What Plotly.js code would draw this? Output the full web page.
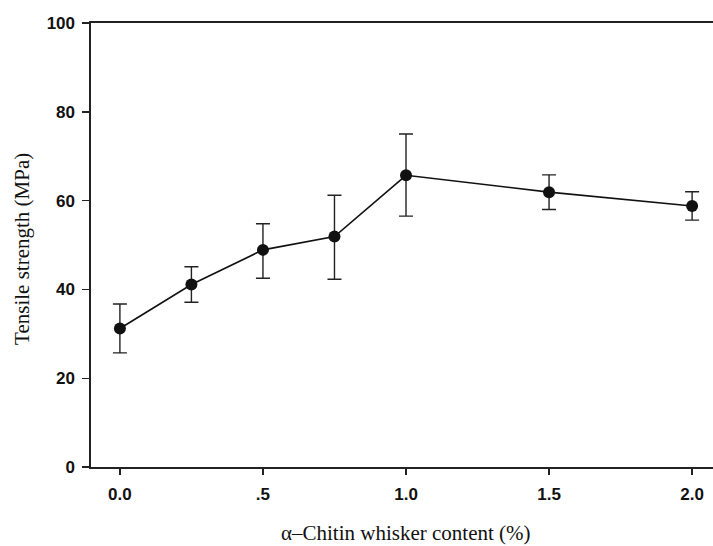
<!DOCTYPE html>
<html>
<head>
<meta charset="utf-8">
<script src="https://cdn.plot.ly/plotly-3.0.1.min.js"></script>
<style>html,body{margin:0;padding:0;background:#fff;}#chart{width:713px;height:546px;}</style>
</head>
<body>
<div id="chart"></div>
<script>
const content = [0.0, 0.25, 0.5, 0.75, 1.0, 1.5, 2.0];
const strength = [31.2, 41.1, 48.9, 51.9, 65.7, 61.9, 58.8];
const errPlus = [5.5, 4.0, 5.9, 9.3, 9.3, 3.9, 3.2];
const errMinus = [5.5, 4.0, 6.4, 9.6, 9.2, 3.9, 3.2];
const xTickVals = [0, 0.5, 1.0, 1.5, 2.0];
const xTickText = ["0.0", ".5", "1.0", "1.5", "2.0"];
const yTickVals = [0, 20, 40, 60, 80, 100];
const xTitle = 'α–Chitin whisker content (%)';
const yTitle = 'Tensile strength (MPa)';

const trace = {
  x: content, y: strength, type: 'scatter', mode: 'lines+markers',
  line: {color: '#111', width: 1.6},
  marker: {color: '#111', size: 12},
  error_y: {type: 'data', symmetric: false, array: errPlus, arrayminus: errMinus,
    color: '#222', thickness: 1.4, width: 7},
  showlegend: false
};
const tickFont = {family: 'Liberation Sans, Arial, sans-serif', size: 17, color: '#111', weight: 'bold'};
const titleFont = {family: 'Liberation Serif, Times New Roman, serif', size: 21, color: '#111'};
const layout = {
  width: 713, height: 546,
  margin: {l: 91, r: 0, t: 23, b: 79},
  paper_bgcolor: '#fff', plot_bgcolor: '#fff',
  xaxis: {
    range: [-0.101, 2.073], tickvals: xTickVals, ticktext: xTickText,
    ticks: 'outside', ticklen: 6, tickwidth: 1.4, tickcolor: '#222',
    showline: true, linecolor: '#222', linewidth: 1.6, mirror: true,
    showgrid: false, zeroline: false, tickfont: tickFont, ticklabelstandoff: 5
  },
  yaxis: {
    range: [0, 100], tickvals: yTickVals,
    ticks: 'outside', ticklen: 7, tickwidth: 1.4, tickcolor: '#222',
    showline: true, linecolor: '#222', linewidth: 1.6,
    showgrid: false, zeroline: false, tickfont: tickFont, ticklabelstandoff: 4
  },
  annotations: [
    {text: xTitle, xref: 'paper', yref: 'paper', x: 0.506, y: -0.1486,
     xanchor: 'center', yanchor: 'middle', showarrow: false, font: titleFont},
    {text: yTitle, xref: 'paper', yref: 'paper', x: -0.111, y: 0.491, textangle: -90,
     xanchor: 'center', yanchor: 'middle', showarrow: false, font: titleFont}
  ]
};
Plotly.newPlot('chart', [trace], layout, {displayModeBar: false, staticPlot: true});
</script>
</body>
</html>
